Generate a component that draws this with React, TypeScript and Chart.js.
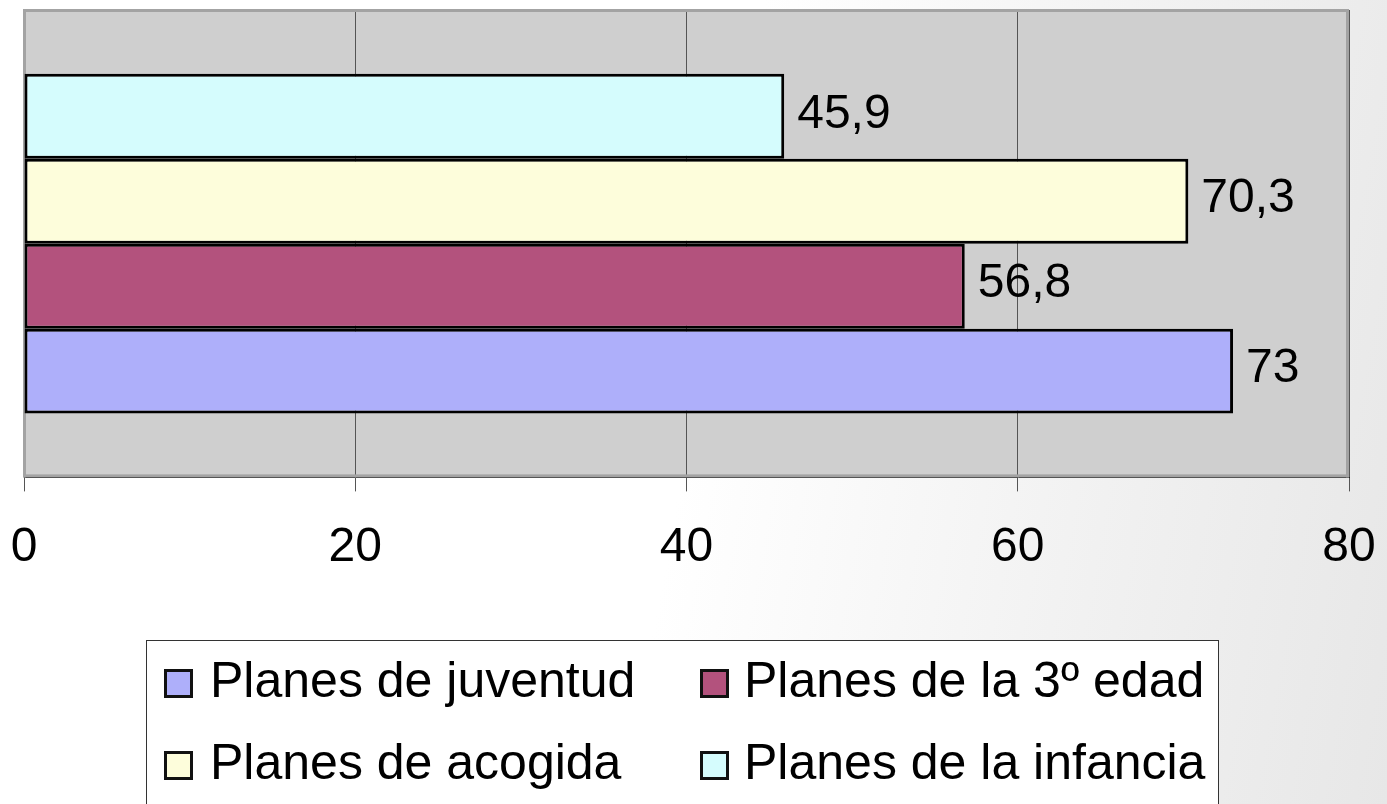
import React, { useEffect, useRef } from "react";
import { Chart, registerables } from "chart.js";

Chart.register(...registerables);

const categories = [""];
const seriesLabels = ["Planes de juventud", "Planes de la 3º edad", "Planes de acogida", "Planes de la infancia"];
const seriesValues = [73, 56.8, 70.3, 45.9];
const seriesColors = ["#aeaffa", "#b3527d", "#fdfddb", "#d5fcfd"];
const xTicks = [0, 20, 40, 60, 80];

const FONT = "'Liberation Sans', Arial, sans-serif";

const plotBg = {
  id: "plotBg",
  beforeDraw(chart: any) {
    const { ctx, chartArea: a } = chart;
    ctx.save();
    ctx.fillStyle = "#cfcfcf";
    ctx.fillRect(a.left, a.top, a.right - a.left, a.bottom - a.top);
    ctx.restore();
  },
  beforeDatasetsDraw(chart: any) {
    const { ctx, chartArea: a } = chart;
    ctx.save();
    ctx.fillStyle = "#a3a3a3";
    ctx.fillRect(a.left - 1, a.top - 1, 3, a.bottom - a.top + 1);
    ctx.fillRect(a.left - 1, a.top - 1, a.right - a.left + 1, 3);
    ctx.fillRect(a.right - 3, a.top - 1, 3, a.bottom - a.top + 1);
    ctx.fillRect(a.left - 1, a.bottom - 3, a.right - a.left + 1, 3);
    ctx.restore();
  },
};

const valueLabels = {
  id: "valueLabels",
  afterDatasetsDraw(chart: any) {
    const { ctx } = chart;
    ctx.save();
    ctx.font = `48px ${FONT}`;
    ctx.fillStyle = "#000";
    ctx.textAlign = "left";
    ctx.textBaseline = "middle";
    chart.data.datasets.forEach((ds: any, i: number) => {
      const meta = chart.getDatasetMeta(i);
      meta.data.forEach((bar: any, j: number) => {
        const v = ds.data[j];
        const txt = String(v).replace(".", ",");
        ctx.fillText(txt, bar.x + 13, bar.y - 2);
      });
    });
    ctx.restore();
  },
};

export default function App() {
  const ref = useRef<HTMLCanvasElement | null>(null);

  useEffect(() => {
    if (!ref.current) return;
    const order = [3, 2, 1, 0];
    const chart = new Chart(ref.current, {
      type: "bar",
      data: {
        labels: categories,
        datasets: order.map((i) => ({
          label: seriesLabels[i],
          data: [seriesValues[i]],
          backgroundColor: seriesColors[i],
          borderColor: "#000",
          borderWidth: 3,
          borderSkipped: false,
          barPercentage: 1,
          categoryPercentage: 0.727,
        })),
      },
      options: {
        indexAxis: "y",
        responsive: false,
        animation: false,
        layout: { padding: { left: 24, right: 38, top: 10, bottom: 15 } },
        plugins: { legend: { display: false }, tooltip: { enabled: false } },
        scales: {
          y: { display: false },
          x: {
            min: 0,
            max: 80,
            afterBuildTicks(scale: any) {
              scale.ticks = xTicks.map((v) => ({ value: v }));
            },
            afterFit(scale: any) {
              scale.paddingLeft = 0;
              scale.paddingRight = 0;
            },
            grid: { color: "#555", lineWidth: 1, tickLength: 14, drawTicks: true },
            border: { display: true, color: "#222", width: 1 },
            ticks: {
              color: "#000",
              font: { family: FONT, size: 48 },
              padding: 28,
              maxRotation: 0,
              autoSkip: false,
            },
          },
        },
      } as any,
      plugins: [plotBg, valueLabels],
    });
    return () => chart.destroy();
  }, []);

  const legendPos = [
    { sq: [17, 28], tx: [63, 11] },
    { sq: [553, 28], tx: [597, 11] },
    { sq: [17, 110], tx: [63, 93] },
    { sq: [553, 110], tx: [597, 93] },
  ];
  const legendOrder = [0, 1, 2, 3];

  return (
    <div
      style={{
        position: "absolute",
        left: 0,
        top: 0,
        width: 1387,
        height: 804,
        overflow: "hidden",
        background: "linear-gradient(100deg, #ffffff 50%, #f1f1f1 78%, #e7e7e7 100%)",
        fontFamily: FONT,
      }}
    >
      <canvas
        ref={ref}
        width={1387}
        height={620}
        style={{ position: "absolute", left: 0, top: 0, width: 1387, height: 620 }}
      />
      <div
        style={{
          position: "absolute",
          left: 146,
          top: 640,
          width: 1073,
          height: 200,
          boxSizing: "border-box",
          border: "1px solid #333",
          background: "#fff",
        }}
      >
        {legendOrder.map((i, k) => (
          <React.Fragment key={i}>
            <div
              style={{
                position: "absolute",
                left: legendPos[k].sq[0],
                top: legendPos[k].sq[1],
                width: 29,
                height: 29,
                boxSizing: "border-box",
                border: "3px solid #111",
                background: seriesColors[i],
              }}
            />
            <div
              style={{
                position: "absolute",
                left: legendPos[k].tx[0],
                top: legendPos[k].tx[1],
                fontSize: 50,
                lineHeight: "56px",
                whiteSpace: "nowrap",
                color: "#000",
              }}
            >
              {seriesLabels[i]}
            </div>
          </React.Fragment>
        ))}
      </div>
    </div>
  );
}
